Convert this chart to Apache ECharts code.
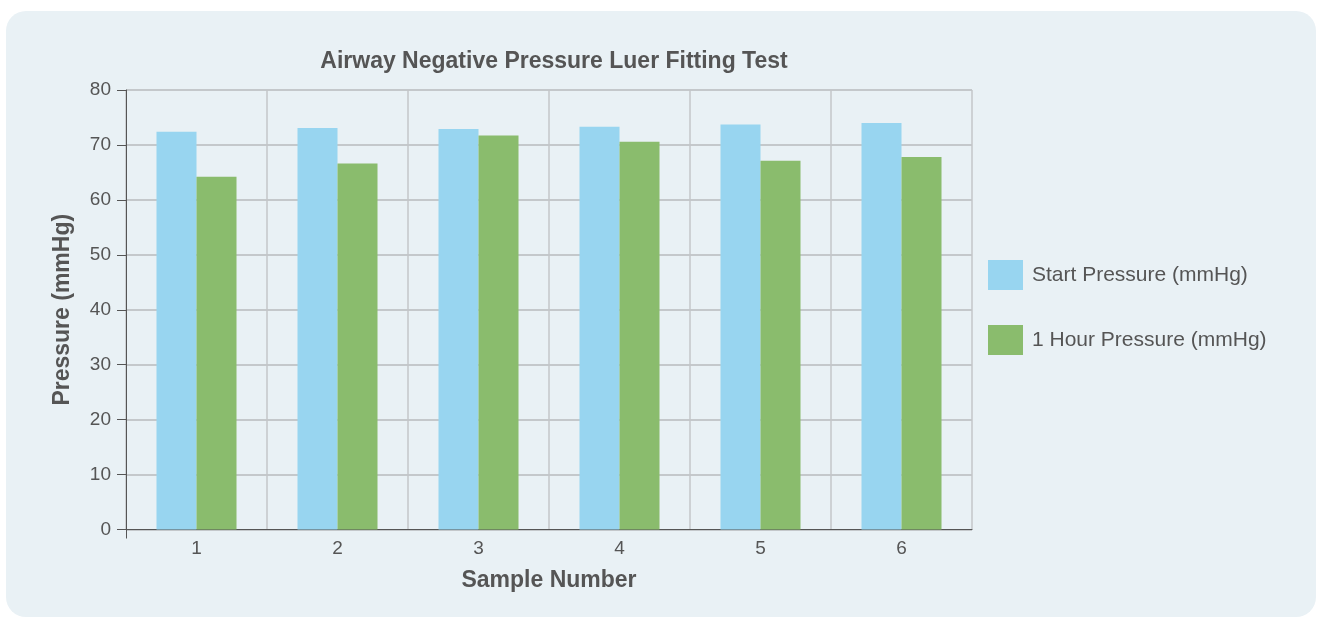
<!DOCTYPE html>
<html>
<head>
<meta charset="utf-8">
<script src="https://cdn.jsdelivr.net/npm/echarts@6/dist/echarts.min.js"></script>
<style>
  html, body { margin: 0; padding: 0; background: #ffffff; }
  #chart { width: 1317px; height: 618px; }
</style>
</head>
<body>
<div id="chart"></div>
<script>
// Sample numbers along the x axis
const samples = ['1', '2', '3', '4', '5', '6'];
// Pressure readings (mmHg)
const startPressure = [72.4, 73.1, 72.9, 73.3, 73.7, 74.0];
const hourPressure = [64.2, 66.6, 71.7, 70.6, 67.1, 67.8];
const seriesNames = ['Start Pressure (mmHg)', '1 Hour Pressure (mmHg)'];

const textColor = '#555555';
const fontFamily = '"Liberation Sans", Arial, sans-serif';

const panel = {
  type: 'rect',
  z: -10,
  silent: true,
  shape: { x: 6, y: 11, width: 1310, height: 606, r: 20 },
  style: { fill: '#e9f1f5' }
};

const chart = echarts.init(document.getElementById('chart'));
chart.setOption({
  animation: false,
  textStyle: { fontFamily: fontFamily },
  graphic: [panel],
  title: {
    text: 'Airway Negative Pressure Luer Fitting Test',
    left: 549,
    top: 45,
    textAlign: 'center',
    textStyle: { fontSize: 23, fontWeight: 'bold', color: textColor, fontFamily: fontFamily }
  },
  legend: {
    orient: 'vertical',
    left: 983,
    top: 255,
    itemWidth: 35,
    itemHeight: 30,
    itemGap: 35,
    icon: 'rect',
    data: seriesNames,
    textStyle: { fontSize: 21, color: textColor, fontFamily: fontFamily, padding: [0, 0, 0, 4] }
  },
  grid: { left: 126, right: 345, top: 90, bottom: 88.5, containLabel: false },
  xAxis: {
    type: 'category',
    data: samples,
    name: 'Sample Number',
    nameLocation: 'middle',
    nameGap: 40,
    nameTextStyle: { fontSize: 23, fontWeight: 'bold', color: textColor },
    axisLine: { lineStyle: { color: '#555555', width: 1 } },
    axisTick: { show: false },
    axisLabel: { fontSize: 19, color: textColor, margin: 10 },
    splitLine: { show: true, lineStyle: { color: '#c3c6c8', width: 1.5 } }
  },
  yAxis: {
    type: 'value',
    min: 0,
    max: 80,
    interval: 10,
    name: 'Pressure (mmHg)',
    nameLocation: 'middle',
    nameGap: 52,
    nameTextStyle: { fontSize: 23, fontWeight: 'bold', color: textColor },
    axisLine: { show: true, lineStyle: { color: '#555555', width: 1 } },
    axisTick: { show: true, length: 9, lineStyle: { color: '#555555' } },
    axisLabel: { fontSize: 19, color: textColor, margin: 15 },
    splitLine: { show: true, lineStyle: { color: '#b7babc', width: 1.5 } }
  },
  series: [
    {
      name: seriesNames[0],
      type: 'bar',
      data: startPressure,
      barWidth: 40,
      barGap: '0%',
      itemStyle: { color: '#98d5f0' }
    },
    {
      name: seriesNames[1],
      type: 'bar',
      data: hourPressure,
      barWidth: 40,
      barGap: '0%',
      itemStyle: { color: '#8abc6d' }
    }
  ]
});

// The y axis line runs a little past the x axis at the origin
const origin = chart.convertToPixel({ gridIndex: 0 }, ['1', 0]);
const axisX = chart.getModel().getComponent('grid', 0).coordinateSystem.getRect().x;
chart.setOption({
  graphic: [panel, {
    type: 'line',
    silent: true,
    z: 10,
    shape: { x1: Math.round(axisX) + 0.5, y1: origin[1], x2: Math.round(axisX) + 0.5, y2: origin[1] + 9 },
    style: { stroke: '#555555', lineWidth: 1 }
  }]
});
</script>
</body>
</html>
